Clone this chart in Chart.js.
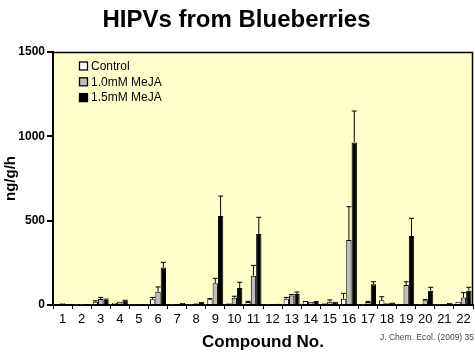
<!DOCTYPE html>
<html>
<head>
<meta charset="utf-8">
<script src="https://cdn.jsdelivr.net/npm/chart.js@4/dist/chart.umd.min.js"></script>
<style>
  html, body { margin: 0; padding: 0; background: #ffffff; }
  #wrap { width: 475px; height: 353px; }
</style>
</head>
<body>
<div id="wrap"><canvas id="chart" width="475" height="353"></canvas></div>
<script>
// compound numbers on the x axis
const compounds = ["1","2","3","4","5","6","7","8","9","10","11","12","13","14","15","16","17","18","19","20","21","22"];
const seriesNames = ["Control", "1.0mM MeJA", "1.5mM MeJA"];

// ng/g/h
const controlVals = [8, 2, 20, 12, 3, 34, 3, 3, 34, 10, 18, 3, 37, 24, 10, 37, 3, 28, 5, 3, 2, 20];
const meja10Vals = [10, 2, 35, 20, 3, 79, 5, 10, 129, 43, 174, 5, 57, 20, 20, 385, 18, 12, 119, 28, 3, 45];
const meja15Vals = [5, 3, 30, 25, 3, 223, 12, 20, 528, 101, 421, 8, 65, 24, 20, 964, 123, 15, 409, 85, 14, 85];

// top of the error bar (value), null = none drawn
const controlErr = [null, null, 25, null, null, 45, null, null, 38, null, 22, null, 45, null, null, 69, null, 49, null, null, null, null];
const meja10Err = [null, null, 45, null, null, 107, null, null, 158, 52, 235, null, 62, null, 30, 583, 22, null, 138, 33, null, 73];
const meja15Err = [null, null, 35, 28, null, 253, null, null, 646, 135, 520, null, 77, null, null, 1150, 138, null, 514, 105, null, 105];

const yTicks = [0, 500, 1000, 1500];

const FONT = "'Liberation Sans', Arial, sans-serif";

// yellow plot area + frame on top/right
const plotBg = {
  id: "plotBg",
  beforeDraw: function (chart) {
    const a = chart.chartArea, ctx = chart.ctx;
    ctx.save();
    ctx.fillStyle = "#FFFFCC";
    ctx.fillRect(a.left, a.top, a.right - a.left, a.bottom - a.top);
    ctx.restore();
  },
  afterDraw: function (chart) {
    const a = chart.chartArea, ctx = chart.ctx;
    ctx.save();
    ctx.strokeStyle = "#000";
    ctx.lineWidth = 1.5;
    ctx.beginPath();
    ctx.moveTo(a.left, a.top + 0.5);
    ctx.lineTo(a.right - 0.5, a.top + 0.5);
    ctx.lineTo(a.right - 0.5, a.bottom);
    ctx.stroke();
    ctx.restore();
  }
};

// error bars from the err arrays, through the y scale
const errorBars = {
  id: "errorBars",
  afterDatasetsDraw: function (chart) {
    const ctx = chart.ctx, y = chart.scales.y;
    chart.data.datasets.forEach(function (ds, i) {
      const meta = chart.getDatasetMeta(i);
      meta.data.forEach(function (bar, j) {
        const top = ds.errTop[j];
        if (top == null) return;
        const yt = y.getPixelForValue(top);
        ctx.save();
        ctx.strokeStyle = ds.errColor;
        ctx.lineWidth = 1;
        ctx.beginPath();
        ctx.moveTo(bar.x, bar.y);
        ctx.lineTo(bar.x, yt);
        ctx.moveTo(bar.x - 2.5, yt);
        ctx.lineTo(bar.x + 2.5, yt);
        ctx.stroke();
        ctx.restore();
      });
    });
  }
};

// legend inside the plot + citation
const innerLegend = {
  id: "innerLegend",
  afterDraw: function (chart) {
    const ctx = chart.ctx;
    ctx.save();
    ctx.font = "12px " + FONT;
    ctx.textBaseline = "middle";
    chart.data.datasets.forEach(function (ds, i) {
      const cy = 66 + i * 15.8;
      ctx.fillStyle = ds.backgroundColor;
      ctx.fillRect(79.5, cy - 4, 8, 8);
      ctx.strokeStyle = "#000";
      ctx.lineWidth = 1.3;
      ctx.strokeRect(79.5, cy - 4, 8, 8);
      ctx.fillStyle = "#000";
      ctx.fillText(ds.label, 91, cy + 0.5);
    });
    ctx.font = "8.5px " + FONT;
    ctx.fillStyle = "#444";
    ctx.textAlign = "right";
    ctx.fillText("J. Chem. Ecol. (2009) 35", 474, 338);
    ctx.restore();
  }
};

function makeSet(label, vals, err, fill, errColor) {
  return {
    label: label,
    data: vals,
    errTop: err,
    errColor: errColor,
    backgroundColor: fill,
    borderColor: "#000",
    borderWidth: 1,
    categoryPercentage: 0.84,
    barPercentage: 1.0
  };
}

new Chart(document.getElementById("chart"), {
  type: "bar",
  data: {
    labels: compounds,
    datasets: [
      makeSet(seriesNames[0], controlVals, controlErr, "#FFFFFF", "#000"),
      makeSet(seriesNames[1], meja10Vals, meja10Err, "#BEBEBE", "#000"),
      makeSet(seriesNames[2], meja15Vals, meja15Err, "#000000", "#000")
    ]
  },
  options: {
    responsive: false,
    animation: false,
    layout: { padding: { left: 0, right: 2, top: 0, bottom: 0 } },
    plugins: {
      legend: { display: false },
      tooltip: { enabled: false },
      title: {
        display: true,
        text: "HIPVs from Blueberries",
        color: "#000",
        font: { family: FONT, size: 24, weight: "bold" },
        padding: { top: 6, bottom: 17.2 }
      }
    },
    scales: {
      x: {
        grid: { display: true, offset: true, drawOnChartArea: false, tickLength: 4, color: "#000", lineWidth: 1 },
        border: { display: true, color: "#000", width: 2 },
        ticks: { color: "#000", font: { family: FONT, size: 13 }, padding: 3, maxRotation: 0, autoSkip: false },
        title: {
          display: true,
          text: "Compound No.",
          color: "#000",
          font: { family: FONT, size: 17, weight: "bold" },
          padding: { top: 0, bottom: 0 }
        },
        afterFit: function (s) { s.height = 48; }
      },
      y: {
        min: 0,
        max: 1500,
        afterBuildTicks: function (s) { s.ticks = yTicks.map(function (v) { return { value: v }; }); },
        grid: { display: true, drawOnChartArea: false, tickLength: 6, color: "#000", lineWidth: 2 },
        border: { display: true, color: "#000", width: 2 },
        ticks: {
          color: "#000",
          font: { family: FONT, size: 12, weight: "bold" },
          padding: 2,
          callback: function (v) { return String(v); }
        },
        title: {
          display: true,
          text: "ng/g/h",
          color: "#000",
          font: { family: FONT, size: 15, weight: "bold" },
          padding: { top: 2, bottom: 0 }
        },
        afterFit: function (s) { s.width = 53; }
      }
    }
  },
  plugins: [plotBg, errorBars, innerLegend]
});
</script>
</body>
</html>
